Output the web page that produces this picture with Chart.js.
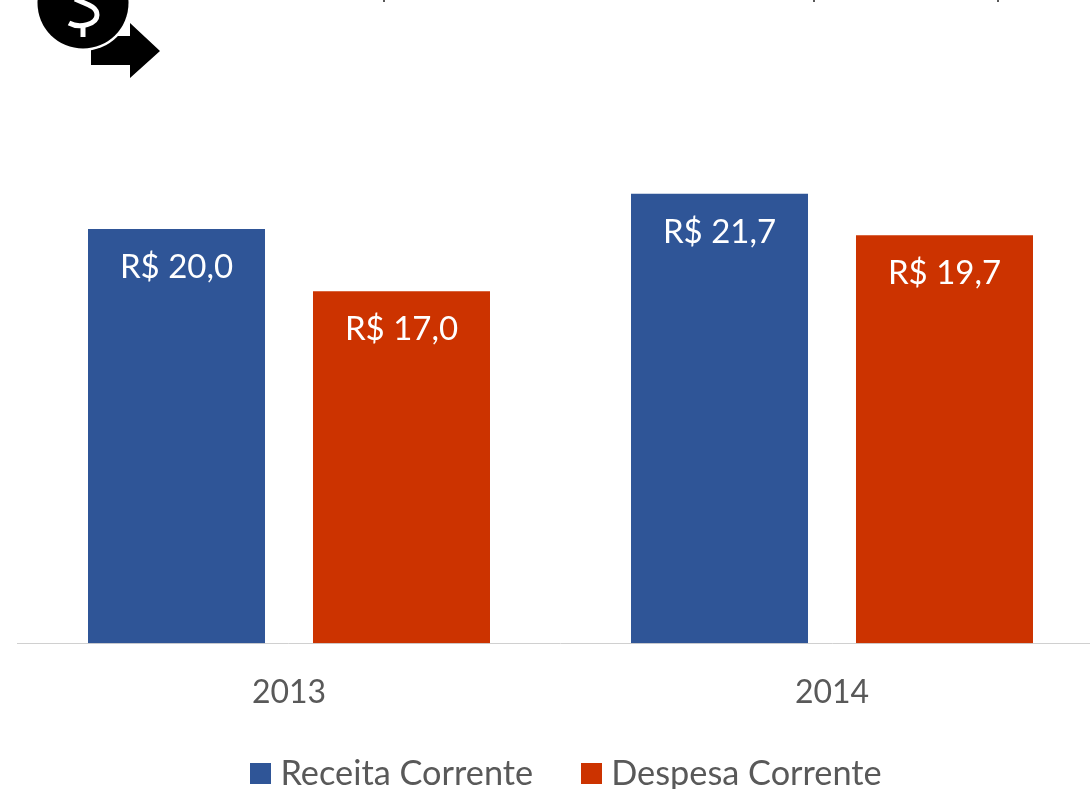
<!DOCTYPE html>
<html><head><meta charset="utf-8">
<style>html,body{margin:0;padding:0;background:#fff;overflow:hidden;width:1090px;height:789px}canvas{display:block}</style>
<script src="https://cdn.jsdelivr.net/npm/chart.js@4"></script></head>
<body><canvas id="c" width="1104" height="801"></canvas>
<script>
const categories = ['2013', '2014'];
const receita = [20.0, 21.7];
const despesa = [17.0, 19.7];
const seriesNames = ['Receita Corrente', 'Despesa Corrente'];
const seriesColors = ['#2f5597', '#cc3300'];
const FONT = 'Lato, Carlito, sans-serif';

const fmt = v => 'R$ ' + v.toFixed(1).replace('.', ',');

function swatch(color) {
  const s = document.createElement('canvas');
  s.width = 21; s.height = 21;
  const g = s.getContext('2d');
  g.fillStyle = color;
  g.fillRect(0, 0, 21, 21);
  return s;
}

const valueLabels = {
  id: 'valueLabels',
  afterDatasetsDraw(chart) {
    const ctx = chart.ctx;
    ctx.save();
    ctx.fillStyle = '#fff';
    ctx.font = '33px ' + FONT;
    ctx.textAlign = 'center';
    ctx.textBaseline = 'middle';
    chart.data.datasets.forEach((ds, i) => {
      chart.getDatasetMeta(i).data.forEach((bar, j) => {
        ctx.fillText(fmt(ds.data[j]), bar.x, bar.y + 38);
      });
    });
    ctx.restore();
  }
};

const icon = {
  id: 'icon',
  beforeDraw(chart) {
    const ctx = chart.ctx;
    ctx.save();
    // arrow
    ctx.fillStyle = '#000';
    ctx.beginPath();
    ctx.moveTo(91, 36); ctx.lineTo(130, 36); ctx.lineTo(130, 23);
    ctx.lineTo(160, 51); ctx.lineTo(130, 78); ctx.lineTo(130, 65); ctx.lineTo(91, 65);
    ctx.closePath(); ctx.fill();
    // coin
    ctx.fillStyle = '#fff';
    ctx.beginPath(); ctx.arc(83, 3, 48, 0, Math.PI * 2); ctx.fill();
    ctx.fillStyle = '#000';
    ctx.beginPath(); ctx.arc(83, 3, 45.5, 0, Math.PI * 2); ctx.fill();
    // dollar sign
    ctx.strokeStyle = '#fff';
    ctx.lineWidth = 5;
    ctx.beginPath();
    ctx.moveTo(75, -1);
    ctx.bezierCurveTo(86, 4, 97, 6, 97, 15);
    ctx.bezierCurveTo(97, 24, 80, 29, 69, 23);
    ctx.stroke();
    ctx.beginPath(); ctx.moveTo(83, 26); ctx.lineTo(83, 37); ctx.stroke();
    // descenders of the cropped title line
    ctx.fillStyle = '#595959';
    ctx.fillRect(383, 0, 2, 2);
    ctx.fillRect(813, 0, 2, 2);
    ctx.fillRect(997, 0, 2, 2);
    ctx.restore();
  },
  afterLayout(chart) {
    chart.legend.left += 9;
    chart.legend.right += 9;
    chart.scales.x.bottom += 30;
  }
};

new Chart(document.getElementById('c'), {
  type: 'bar',
  data: {
    labels: categories,
    datasets: [
      { label: seriesNames[0], data: receita, backgroundColor: seriesColors[0] },
      { label: seriesNames[1], data: despesa, backgroundColor: seriesColors[1] }
    ]
  },
  options: {
    responsive: false,
    animation: false,
    devicePixelRatio: 1,
    layout: { padding: { left: 17.5, right: 0.5, top: 22, bottom: 0 } },
    datasets: { bar: { categoryPercentage: 0.8287, barPercentage: 0.7867 } },
    scales: {
      y: { display: false, min: 0, max: 30 },
      x: {
        grid: { display: false },
        border: { display: true, color: '#d0d0d0', width: 1 },
        afterFit(s) { s.height = 58.5; },
        ticks: { color: '#595959', font: { family: FONT, size: 32 }, padding: 22, maxRotation: 0 }
      }
    },
    plugins: {
      tooltip: { enabled: false },
      legend: {
        position: 'bottom',
        labels: {
          color: '#595959',
          font: { family: FONT, size: 34.3 },
          usePointStyle: true,
          pointStyleWidth: 6,
          padding: 55,
          generateLabels(chart) {
            return Chart.defaults.plugins.legend.labels.generateLabels(chart).map((it, i) => {
              it.pointStyle = swatch(seriesColors[i]);
              return it;
            });
          }
        }
      }
    }
  },
  plugins: [valueLabels, icon]
});
</script></body></html>
